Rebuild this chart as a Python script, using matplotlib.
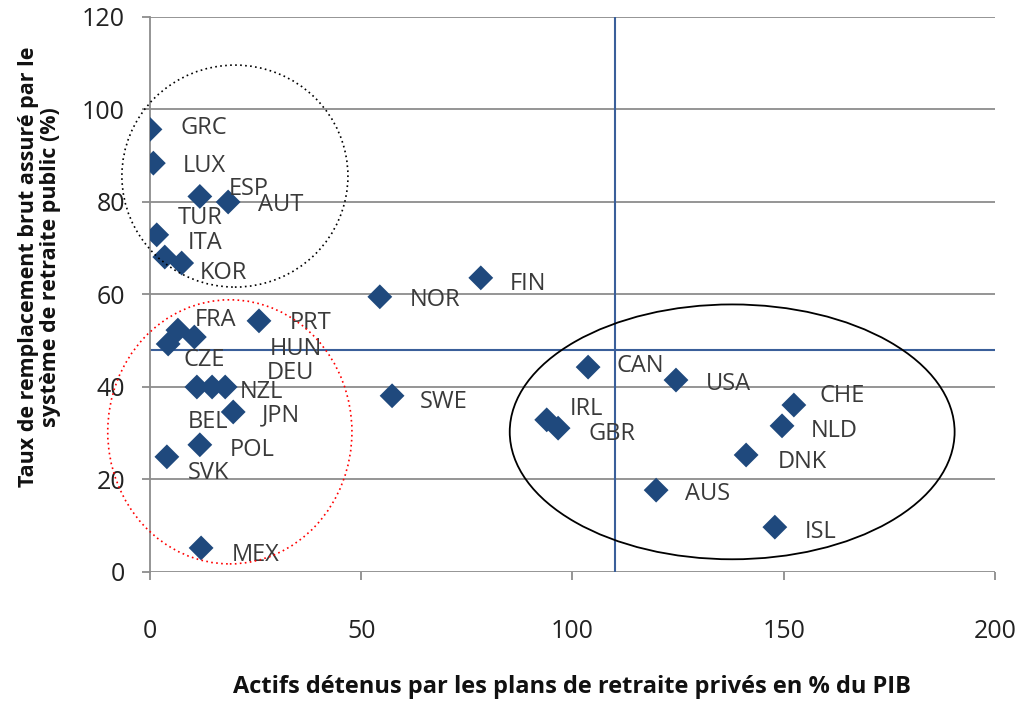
import matplotlib.pyplot as plt
from matplotlib.patches import Ellipse

plt.rcParams['font.family'] = ['Open Sans', 'DejaVu Sans']

# pays, actifs des plans privés (% PIB), taux de remplacement public (%)
countries = ['GRC', 'LUX', 'ESP', 'AUT', 'TUR', 'ITA', 'KOR',
             'PRT', 'FRA', 'CZE', 'HUN', 'BEL', 'DEU', 'NZL', 'JPN',
             'POL', 'SVK', 'MEX', 'NOR', 'FIN', 'SWE',
             'CAN', 'USA', 'IRL', 'GBR', 'CHE', 'NLD', 'DNK', 'AUS', 'ISL']
assets = [0.0, 0.8, 11.8, 18.5, 1.6, 3.5, 7.5,
          25.8, 6.6, 4.3, 10.5, 11.1, 14.7, 17.8, 19.7,
          11.8, 4.0, 12.1, 54.4, 78.3, 57.3,
          103.7, 124.5, 93.9, 96.6, 152.4, 149.6, 141.1, 119.8, 147.9]
replacement = [95.7, 88.4, 81.2, 80.0, 72.9, 68.1, 66.8,
               54.3, 52.3, 49.3, 50.8, 40.0, 40.0, 40.0, 34.6,
               27.5, 24.9, 5.2, 59.5, 63.6, 38.1,
               44.3, 41.5, 32.9, 31.1, 36.1, 31.6, 25.3, 17.7, 9.7]

# moyennes OCDE (lignes de référence)
mean_assets = 110
mean_replacement = 48

# décalage des étiquettes (pixels, x vers la droite, y vers le bas)
label_offsets = {
    'GRC': (31, -1), 'LUX': (29, 3), 'ESP': (29, -7), 'AUT': (30, 3),
    'TUR': (21, -17), 'ITA': (23, -14), 'KOR': (18, 10),
    'PRT': (31, 2), 'FRA': (17, -10), 'CZE': (15, 16), 'HUN': (75, 12),
    'BEL': (-9, 35), 'DEU': (55, -14), 'NZL': (15, 5), 'JPN': (29, 3),
    'POL': (30, 5), 'SVK': (21, 16), 'MEX': (31, 7),
    'NOR': (30, 3), 'FIN': (29, 6), 'SWE': (28, 6),
    'CAN': (28, -1), 'USA': (30, 4), 'IRL': (23, -11), 'GBR': (30, 6),
    'CHE': (26, -9), 'NLD': (29, 5), 'DNK': (32, 7), 'AUS': (29, 4),
    'ISL': (30, 5),
}

fig = plt.figure(figsize=(10.21, 7.08), dpi=100)
ax = fig.add_axes([0.1469, 0.1921, 0.8276, 0.7839])

grid_col = '#8c8c8c'
ax.set_xlim(0, 200)
ax.set_ylim(0, 120)
ax.set_xticks([0, 50, 100, 150, 200])
ax.set_yticks([0, 20, 40, 60, 80, 100, 120])
ax.yaxis.grid(True, color=grid_col, linewidth=1.3)
ax.set_axisbelow(True)
for side in ['top', 'right', 'bottom']:
    ax.spines[side].set_visible(False)
ax.spines['left'].set_color(grid_col)
ax.spines['left'].set_linewidth(1.3)
ax.tick_params(axis='both', colors=grid_col, length=6, width=1.3,
               labelcolor='#222222', labelsize=18)
ax.tick_params(axis='x', pad=28)
ax.tick_params(axis='y', pad=12)

ax.axvline(mean_assets, color='#3a5f9a', linewidth=1.5, zorder=2)
ax.axhline(mean_replacement, color='#3a5f9a', linewidth=1.5, zorder=2)

ax.scatter(assets, replacement, marker='D', s=160, color='#1f497d',
           edgecolors='none', zorder=3)

for c, x, y in zip(countries, assets, replacement):
    dx, dy = label_offsets[c]
    ax.annotate(c, (x, y), xytext=(dx, -dy), textcoords='offset pixels',
                ha='left', va='center', fontsize=17, color='#3a3a3a',
                zorder=4)

# zones entourées
ax.add_patch(Ellipse((20.1, 85.6), 53.5, 48, fill=False, edgecolor='black',
                     linestyle=(0, (1, 2)), linewidth=1.2, clip_on=False,
                     zorder=5))
ax.add_patch(Ellipse((18.9, 30.3), 57.8, 57.1, fill=False, edgecolor='red',
                     linestyle=(0, (1, 2)), linewidth=1.2, clip_on=False,
                     zorder=5))
ax.add_patch(Ellipse((137.8, 30.3), 105.3, 55.1, fill=False,
                     edgecolor='black', linewidth=1.3, clip_on=False,
                     zorder=5))

ax.set_xlabel('Actifs détenus par les plans de retraite privés en % du PIB',
              fontsize=17, fontweight='bold', labelpad=22, color='#111111')
ax.set_ylabel('Taux de remplacement brut assuré par le\n'
              'système de retraite public (%)',
              fontsize=15.5, fontweight='bold', color='#111111',
              linespacing=1.1)
ax.yaxis.set_label_coords(-0.105, 0.55)

fig.savefig('out.png', dpi=100)
